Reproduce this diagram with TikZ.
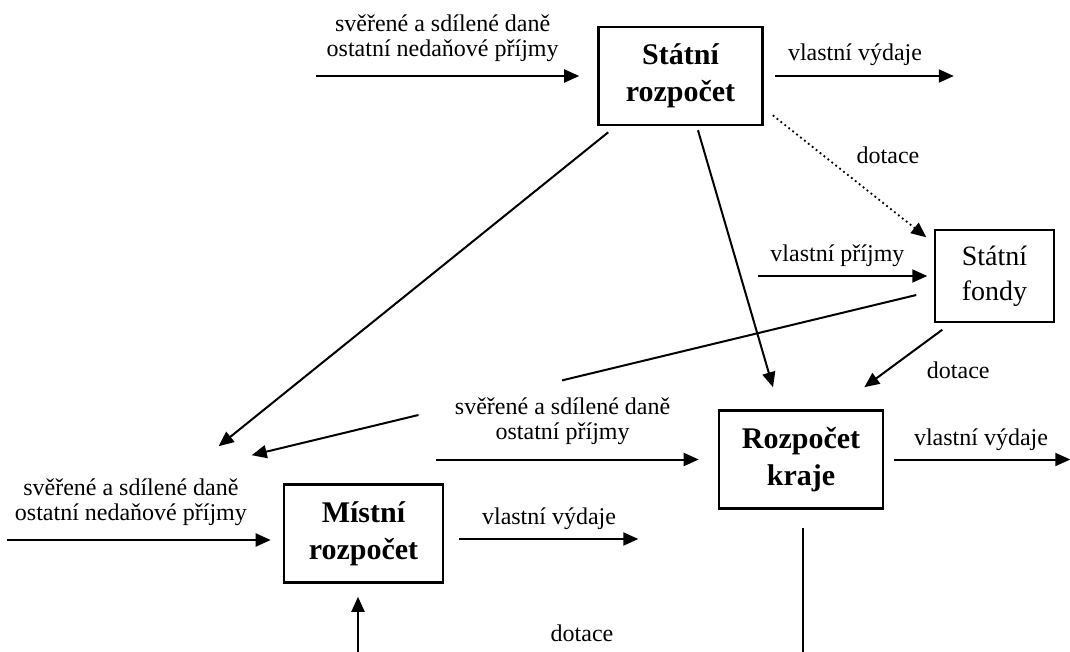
\documentclass[tikz,border=0pt]{standalone}
\usepackage{fontspec}
\setmainfont{Liberation Serif}
\usetikzlibrary{positioning, arrows.meta, calc}

\begin{document}
\begin{tikzpicture}[on grid,
    budget/.style={draw, line width=1.3pt, minimum width=82pt, minimum height=49pt, align=center, font=\fontsize{15}{18.5}\selectfont\bfseries},
    fund/.style={draw, line width=0.75pt, minimum width=59.5pt, minimum height=46pt, align=center, font=\fontsize{14}{17.5}\selectfont},
    lbl/.style={align=center, font=\fontsize{12}{12.5}\selectfont, inner sep=1pt},
    flow/.style={-{Triangle[length=7.5pt, width=6.5pt]}, line width=1pt},
    plain/.style={line width=1pt},
    grant/.style={line width=0.9pt, dash pattern=on 0.9pt off 1.6pt}]

    \useasboundingbox (0,0) rectangle (535pt,-326pt);

    \node[budget] (sr) at (340.25pt,-38pt) {Státní\\rozpočet};
    \node[fund, below right=100pt and 157pt of sr] (fondy) {Státní\\fondy};
    \node[budget, below right=191.75pt and 60.25pt of sr] (kraj) {Rozpočet\\kraje};
    \node[budget, minimum width=79.5pt, below left=37pt and 218.75pt of kraj] (mistni) {Místní\\rozpočet};

    \coordinate[left=140.5pt of sr.west] (srIn);
    \coordinate[right=95pt of sr.east] (srOut);
    \coordinate[left=88pt of fondy.west] (fondyIn);
    \coordinate[left=141pt of kraj.west] (krajIn);
    \coordinate[right=93pt of kraj.east] (krajOut);
    \coordinate[below left=3.25pt and 138pt of mistni.west] (mistniIn);
    \coordinate[below right=2.75pt and 97pt of mistni.east] (mistniOut);
    \coordinate[below left=35pt and 2.75pt of mistni.south] (mistniBot);
    \coordinate[below right=71.25pt and 1pt of kraj.south] (krajBot);

    \coordinate[below right=3pt and 5.5pt of sr.south west] (srA);
    \coordinate[above left=18.5pt and 32pt of mistni.north west] (mistniA);
    \coordinate[below right=2pt and 8.75pt of sr.south] (srB);
    \coordinate[above left=11pt and 14pt of kraj.north] (krajB);
    \coordinate[above right=5.5pt and 4.5pt of sr.south east] (srC);
    \coordinate[below left=4pt and 4pt of fondy.north west] (fondyC);
    \coordinate[below right=3.5pt and 4pt of fondy.south west] (fondyD);
    \coordinate[above left=11pt and 10pt of kraj.north east] (krajD);
    \coordinate[below left=9.5pt and 9pt of fondy.west] (fondyOut);
    \coordinate[above left=14pt and 15.5pt of mistni.north west] (mistniTip);

    \path[flow]
        (srIn) edge[shorten >=9pt] node[lbl, pos=0.45, yshift=19pt] {svěřené a sdílené daně\\ostatní nedaňové příjmy} (sr.west)
        (sr.east) edge[shorten <=5.5pt] node[lbl, pos=0.48, yshift=10.5pt] {vlastní výdaje} (srOut)
        (srC) edge[grant] node[lbl, midway, xshift=19.25pt, yshift=10.25pt] {dotace} (fondyC)
        (fondyIn) edge[shorten >=3.5pt] node[lbl, pos=0.45, yshift=10pt] {vlastní příjmy} (fondy.west)
        (srA) edge (mistniA)
        (srB) edge (krajB)
        (fondyD) edge node[lbl, midway, xshift=27.5pt, yshift=-5.75pt] {dotace} (krajD)
        (krajIn) edge[shorten >=9.5pt] node[lbl, pos=0.45, yshift=19pt] {svěřené a sdílené daně\\ostatní příjmy} (kraj.west)
        (kraj.east) edge[shorten <=5pt] node[lbl, pos=0.52, yshift=10pt] {vlastní výdaje} (krajOut)
        (mistniIn) edge[shorten >=6pt] node[lbl, pos=0.45, yshift=19pt] {svěřené a sdílené daně\\ostatní nedaňové příjmy} (mistniIn -| mistni.west)
        (mistniOut -| mistni.east) edge[shorten <=7.5pt] node[lbl, pos=0.54, yshift=10pt] {vlastní výdaje} (mistniOut)
        (mistniBot) edge[shorten >=6.5pt] (mistniBot |- mistni.south);

    \draw[plain] (fondyOut) -- ($(fondyOut)!0.533!(mistniTip)$);
    \draw[flow] ($(fondyOut)!0.749!(mistniTip)$) -- (mistniTip);
    \draw[plain, shorten <=9.25pt] (krajBot |- kraj.south) -- (krajBot);

    \node[lbl, below right=49.75pt and 109.25pt of mistni] (dotaceBot) {dotace};
\end{tikzpicture}
\end{document}
